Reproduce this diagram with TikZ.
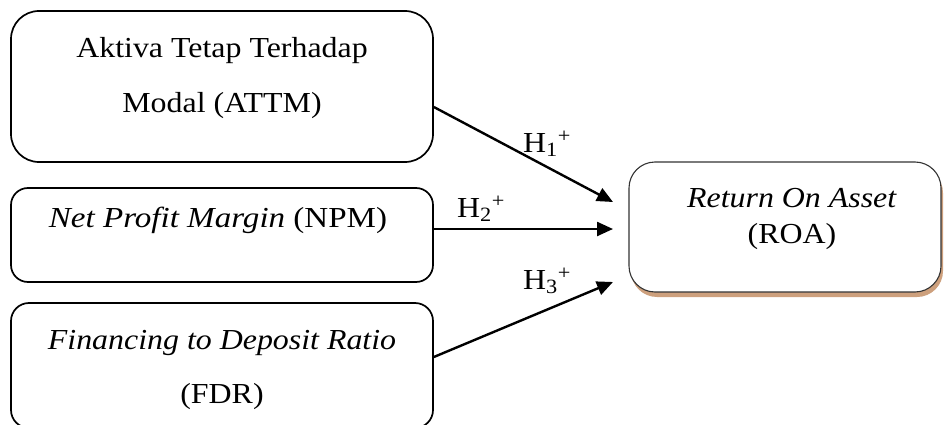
\documentclass[tikz,border=0pt]{standalone}
\usepackage{fontspec}
\setmainfont{Liberation Serif}
\usetikzlibrary{arrows.meta,shadows}
\definecolor{roashadow}{RGB}{205,160,125}
\newcommand{\sx}[1]{\scalebox{1.1}[1]{#1}}
\begin{document}
\begin{tikzpicture}[x=1pt,y=-1pt,
  box/.style={draw=black,line width=1.7pt,fill=white,inner sep=0pt},
  txt/.style={inner sep=0pt,font=\fontsize{29}{34}\selectfont},
  lbl/.style={inner sep=0pt,anchor=base west,font=\fontsize{29}{34}\selectfont},
  conn/.style={line width=2.4pt,-{Triangle[length=16pt,width=14pt]}}]
\useasboundingbox (0,0) rectangle (944,425);
% boxes
\node[box,rounded corners=28pt,minimum width=422pt,minimum height=151pt] (b1) at (222,86.5) {};
\node[box,rounded corners=17pt,minimum width=422pt,minimum height=94pt] (b2) at (222,235) {};
\node[box,rounded corners=18pt,minimum width=422pt,minimum height=125pt] (b3) at (222,365.5) {};
\node[box,draw=black!80,line width=1.1pt,rounded corners=26pt,minimum width=312pt,minimum height=130pt,
  drop shadow={shadow xshift=2pt,shadow yshift=-5pt,fill=roashadow,opacity=1}] (roa) at (785,227) {};
% texts
\node[txt,anchor=base] (t1a) at (222,58) {\sx{Aktiva Tetap Terhadap}};
\node[txt,anchor=base] (t1b) at (222,113) {\sx{Modal (ATTM)}};
\node[txt,anchor=base] (t2) at (218,227) {\scalebox{1.14}[1]{\textit{Net Profit Margin} (NPM)}};
\node[txt,anchor=base] (t3a) at (222,349) {\sx{\textit{Financing to Deposit Ratio}}};
\node[txt,anchor=base] (t3b) at (222,403) {\sx{(FDR)}};
\node[txt,anchor=base] (r1) at (792,207) {\sx{\textit{Return On Asset}}};
\node[txt,anchor=base] (r2) at (792,243) {\sx{(ROA)}};
% arrow tips
\coordinate (e1) at (613,202);
\coordinate (e2) at (613,229);
\coordinate (e3) at (613,282);
\draw[conn] ([yshift=-20.5pt]b1.east) -- (e1);
\draw[conn] ([yshift=6pt]b2.east) -- (e2);
\draw[conn] ([yshift=8.5pt]b3.east) -- (e3);
% labels
\node[lbl] (h1) at (523,152) {\sx{H\textsubscript{1}\textsuperscript{+}}};
\node[lbl] (h2) at (457,217) {\sx{H\textsubscript{2}\textsuperscript{+}}};
\node[lbl] (h3) at (523,289) {\sx{H\textsubscript{3}\textsuperscript{+}}};
\end{tikzpicture}
\end{document}
